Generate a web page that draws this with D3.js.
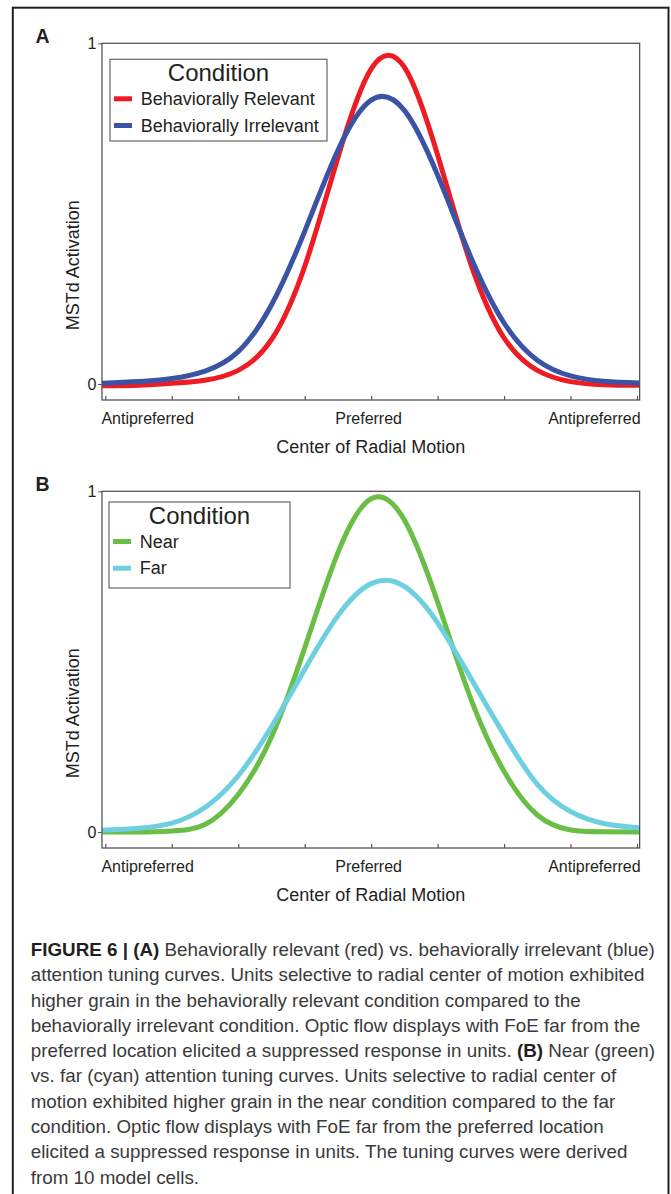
<!DOCTYPE html>
<html>
<head>
<meta charset="utf-8">
<script src="https://d3js.org/d3.v7.min.js"></script>
<style>
  body { margin:0; background:#fff; }
  svg { display:block; }
  text { font-family: "Liberation Sans", Arial, sans-serif; fill:#231f20; }
</style>
</head>
<body>
<script>
var W = 671, H = 1194;

// position along the radial-motion axis, in tick steps (0 = preferred)
var xs = [-4.05, -3.5, -3, -2.5, -2, -1.5, -1, -0.5, 0, 0.5, 1, 1.5, 2, 2.5, 3, 3.5, 4.04];
var tickPos = [-4, -3, -2, -1, 0, 1, 2, 3, 4];
var tickNames = ["Antipreferred", "Preferred", "Antipreferred"];
var tickNamePos = [-4, 0, 4];

// panel A
var relevant   = [-0.005, -0.004, 0.002, 0.011, 0.04, 0.13, 0.345, 0.665, 0.925, 0.93, 0.672, 0.352, 0.135, 0.04, 0.007, -0.002, -0.004];
var irrelevant = [0.002, 0.007, 0.016, 0.038, 0.095, 0.232, 0.448, 0.686, 0.833, 0.803, 0.613, 0.372, 0.179, 0.07, 0.024, 0.008, 0.003];
// panel B
var near = [0, 0, 0.003, 0.022, 0.11, 0.279, 0.54, 0.82, 0.978, 0.916, 0.675, 0.391, 0.178, 0.05, 0.006, 0.001, 0];
var far  = [0.005, 0.011, 0.026, 0.072, 0.165, 0.309, 0.477, 0.635, 0.729, 0.721, 0.614, 0.451, 0.285, 0.14, 0.06, 0.025, 0.012];

var panelA = {
  letter: "A", top: 0,
  names: ["Behaviorally Relevant", "Behaviorally Irrelevant"],
  values: [relevant, irrelevant],
  colors: ["#ed1c24", "#3a53a4"],
  legend: { x: 110, y: 59.3, w: 217, h: 81.7 }
};
var panelB = {
  letter: "B", top: 448,
  names: ["Near", "Far"],
  values: [near, far],
  colors: ["#6abd45", "#6dcfe0"],
  legend: { x: 109, y: 54, w: 181, h: 86 }
};

var svg = d3.select("body").append("svg")
  .attr("width", W)
  .attr("height", H);

// outer frame of the figure
svg.append("rect")
  .attr("x", 12.8).attr("y", 7.7)
  .attr("width", 655.7).attr("height", 1200)
  .attr("fill", "none")
  .attr("stroke", "#231f20")
  .attr("stroke-width", 2);

function drawPanel(p) {
  var g = svg.append("g").attr("transform", "translate(0," + p.top + ")");

  var x = d3.scaleLinear().domain([-4, 4]).range([105.3, 637]);
  var y = d3.scaleLinear().domain([0, 1]).range([384, 43.3]);
  var fl = x(-4.05), fr = x(4.04), ft = y(1), fb = 400;

  // panel letter
  g.append("text")
    .attr("x", 35.5).attr("y", 42.7)
    .style("font-size", "19.5px").style("font-weight", "bold")
    .text(p.letter);

  // curves
  var line = d3.line()
    .x(function(d) { return x(d[0]); })
    .y(function(d) { return y(d[1]); })
    .curve(d3.curveNatural);

  var clip = "clip" + p.letter;
  g.append("clipPath").attr("id", clip)
    .append("rect").attr("x", fl).attr("y", ft - 10).attr("width", fr - fl).attr("height", fb - ft + 10);

  p.values.forEach(function(vals, i) {
    g.append("path")
      .datum(xs.map(function(v, j) { return [v, vals[j]]; }))
      .attr("clip-path", "url(#" + clip + ")")
      .attr("fill", "none")
      .attr("stroke", p.colors[i])
      .attr("stroke-width", 5)
      .attr("d", line);
  });

  // frame
  g.append("rect")
    .attr("x", fl).attr("y", ft)
    .attr("width", fr - fl).attr("height", fb - ft)
    .attr("fill", "none")
    .attr("stroke", "#555")
    .attr("stroke-width", 1.3);

  // bottom ticks (inside)
  var xAxis = g.append("g")
    .attr("transform", "translate(0," + fb + ")")
    .call(d3.axisBottom(x).tickValues(tickPos).tickSize(-4).tickFormat(""));
  xAxis.select(".domain").remove();
  xAxis.selectAll("line").attr("stroke", "#555").attr("stroke-width", 1.2);

  tickNamePos.forEach(function(v, i) {
    g.append("text")
      .attr("x", i === 0 ? fl - 0.6 : (i === 2 ? fr + 1 : x(v) - 2.5))
      .attr("y", fb + 24)
      .attr("text-anchor", i === 0 ? "start" : (i === 2 ? "end" : "middle"))
      .style("font-size", "16px")
      .text(tickNames[i]);
  });

  // left ticks 0 and 1
  var yAxis = g.append("g")
    .attr("transform", "translate(" + fl + ",0)")
    .call(d3.axisLeft(y).tickValues([0, 1]).tickSize(4).tickPadding(1.5).tickFormat(d3.format("d")));
  yAxis.select(".domain").remove();
  yAxis.selectAll("line").attr("stroke", "#555");
  yAxis.selectAll("text")
    .style("font-size", "16px")
    .style("font-family", "'Liberation Sans', Arial, sans-serif")
    .attr("fill", "#231f20");

  // axis titles
  g.append("text")
    .attr("x", (fl + fr) / 2).attr("y", fb + 53.3)
    .attr("text-anchor", "middle")
    .style("font-size", "18px")
    .text("Center of Radial Motion");

  g.append("text")
    .attr("transform", "translate(78.5," + (ft + 222) + ") rotate(-90)")
    .attr("text-anchor", "middle")
    .style("font-size", "18px")
    .text("MSTd Activation");

  // legend
  var L = p.legend;
  var lg = g.append("g");
  lg.append("rect")
    .attr("x", L.x).attr("y", L.y)
    .attr("width", L.w).attr("height", L.h)
    .attr("fill", "#fff")
    .attr("stroke", "#666")
    .attr("stroke-width", 1.2);
  lg.append("text")
    .attr("x", L.x + L.w / 2).attr("y", L.y + 21.5)
    .attr("text-anchor", "middle")
    .style("font-size", "24px")
    .text("Condition");
  p.names.forEach(function(name, i) {
    var yy = L.y + 39.5 + i * 26.7;
    lg.append("line")
      .attr("x1", L.x + 4).attr("x2", L.x + 22)
      .attr("y1", yy).attr("y2", yy)
      .attr("stroke", p.colors[i])
      .attr("stroke-width", 5);
    lg.append("text")
      .attr("x", L.x + 30.7).attr("y", yy + 6)
      .style("font-size", "18px")
      .text(name);
  });
}

drawPanel(panelA);
drawPanel(panelB);

// caption
var caption = [
  [["FIGURE 6 | (A)", true], [" Behaviorally relevant (red) vs. behaviorally irrelevant (blue)", false]],
  [["attention tuning curves. Units selective to radial center of motion exhibited", false]],
  [["higher grain in the behaviorally relevant condition compared to the", false]],
  [["behaviorally irrelevant condition. Optic flow displays with FoE far from the", false]],
  [["preferred location elicited a suppressed response in units. ", false], ["(B)", true], [" Near (green)", false]],
  [["vs. far (cyan) attention tuning curves. Units selective to radial center of", false]],
  [["motion exhibited higher grain in the near condition compared to the far", false]],
  [["condition. Optic flow displays with FoE far from the preferred location", false]],
  [["elicited a suppressed response in units. The tuning curves were derived", false]],
  [["from 10 model cells.", false]]
];

var cap = svg.append("g");
var capLines = cap.selectAll("text")
  .data(caption)
  .enter().append("text")
  .attr("x", 0)
  .attr("y", function(d, i) { return i * 25.3; })
  .style("font-size", "18px")
  .attr("fill", "#333");

capLines.each(function(parts) {
  var t = d3.select(this);
  parts.forEach(function(p) {
    t.append("tspan")
      .style("font-weight", p[1] ? "bold" : "normal")
      .style("fill", p[1] ? "#231f20" : "#3a3a3a")
      .text(p[0]);
  });
});

// squeeze the caption to the width of the original (narrow face)
var refLen = capLines.nodes()[1].getComputedTextLength();
var sx = 614 / refLen;
cap.attr("transform", "translate(30.7,956) scale(" + sx + ",1)");
</script>
</body>
</html>
